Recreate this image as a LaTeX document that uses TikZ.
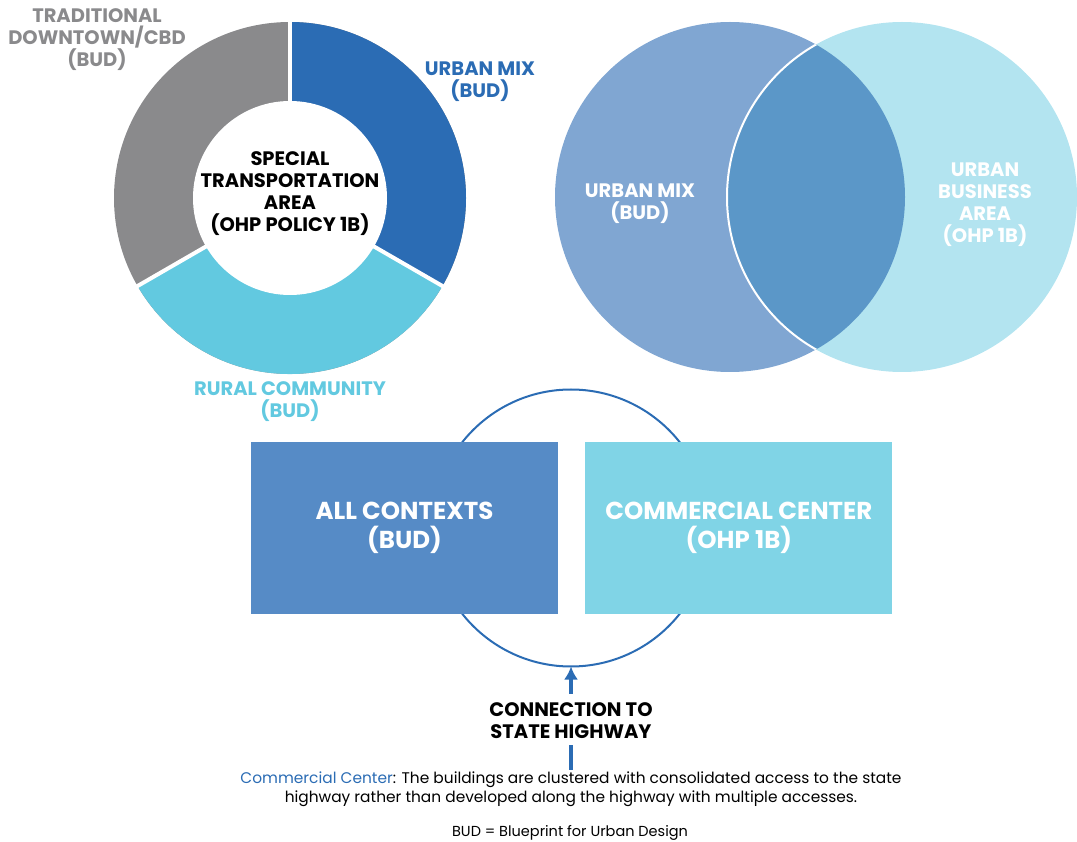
\documentclass[tikz,border=0pt]{standalone}
\usepackage{fontspec}
\setmainfont{Poppins}
\usetikzlibrary{positioning,calc,arrows.meta}
\definecolor{downtowncolor}{RGB}{138,138,140}
\definecolor{urbancolor}{RGB}{43,108,180}
\definecolor{ruralcolor}{RGB}{98,201,224}
\definecolor{mixcolor}{RGB}{128,166,210}
\definecolor{businesscolor}{RGB}{179,228,240}
\definecolor{lenscolor}{RGB}{91,151,200}
\definecolor{contextcolor}{RGB}{86,139,198}
\definecolor{centercolor}{RGB}{128,212,230}

\begin{document}
\begin{tikzpicture}[
    x=1pt, y=-1pt,
    tag/.style={align=center, inner sep=0pt, font=\bfseries\fontsize{19.5}{22}\selectfont},
    box/.style={rectangle, minimum width=307pt, minimum height=172pt, align=center, text=white, font=\bfseries\fontsize{24.5}{29}\selectfont},
    ring/.style={draw=urbancolor, line width=2pt},
    arrow/.style={-{Latex[length=13pt,width=14pt]}, line width=4.5pt, draw=urbancolor},
    stub/.style={line width=4.5pt, draw=urbancolor}
]
\useasboundingbox (0,0) rectangle (1077,842);

% Donut of contexts
\coordinate (donut) at (290,198);
\fill[downtowncolor] (donut) circle[radius=176];
\fill[urbancolor] (donut) -- ++(-90:176) arc[start angle=-90, end angle=30, radius=176] -- cycle;
\fill[ruralcolor] (donut) -- ++(30:176) arc[start angle=30, end angle=150, radius=176] -- cycle;
\foreach \a in {-90,30,150}
    \draw[white, line width=4pt] (donut) -- ++(\a:180);
\fill[white] (donut) circle[radius=97];

\node[tag] (sta_label) at (290,194) {SPECIAL\\TRANSPORTATION\\AREA\\(OHP POLICY 1B)};
\node[tag, text=downtowncolor] (downtown_label) at (97,40) {TRADITIONAL\\DOWNTOWN/CBD\\(BUD)};
\node[tag, text=urbancolor] (urban_label) at (480,82) {URBAN MIX\\(BUD)};
\node[tag, text=ruralcolor] (rural_label) at (290,402) {RURAL COMMUNITY\\(BUD)};

% Venn of urban mix and business area
\coordinate (mix) at (730,197);
\coordinate (business) at (902,197);
\fill[mixcolor] (mix) circle[radius=175];
\fill[businesscolor] (business) circle[radius=175];
\begin{scope}
    \clip (mix) circle[radius=175];
    \fill[lenscolor] (business) circle[radius=175];
    \draw[white, line width=2pt] (business) circle[radius=175];
\end{scope}

\node[tag, text=white] (mix_label) at (640,204) {URBAN MIX\\(BUD)};
\node[tag, text=white] (business_label) at (985,205) {URBAN\\BUSINESS\\AREA\\(OHP 1B)};

% Commercial center
\coordinate (hub) at (571,528);
\draw[ring] (hub) circle[radius=138.5];
\node[box, fill=contextcolor] (contexts) at (404.5,528) {ALL CONTEXTS\\(BUD)};
\node[box, fill=centercolor, right=27pt of contexts] (center) {COMMERCIAL CENTER\\(OHP 1B)};

\coordinate (access) at ($(hub)+(0,138.5)$);
\node[tag] (highway) at (571,721) {CONNECTION TO\\STATE HIGHWAY};
\draw[arrow] ([yshift=9pt]highway.north) -- (access);

% Notes
\node[align=center, font=\fontsize{15.4}{19}\selectfont] (note) at (571,789) {%
    \textcolor{urbancolor}{Commercial Center}: The buildings are clustered with consolidated access to the state\\
    highway rather than developed along the highway with multiple accesses.};
\draw[stub] ([yshift=-6pt]highway.south) -- ([yshift=-2pt]note.north);

\node[font=\fontsize{14.5}{16}\selectfont] (legend) at (570,833) {BUD = Blueprint for Urban Design};

\end{tikzpicture}
\end{document}
